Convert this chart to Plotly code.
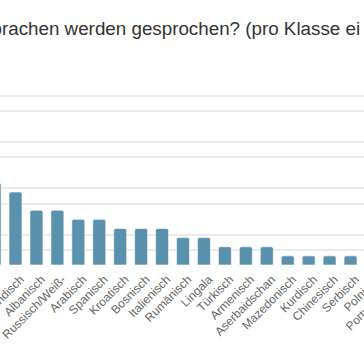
import plotly.graph_objects as go

# Data (first and last two bars lie outside the visible window)
categories = ["Französisch", "Niederländisch", "Albanisch", "Russisch/Weiß-", "Arabisch", "Spanisch",
              "Kroatisch", "Bosnisch", "Italienisch", "Rumänisch", "Lingala", "Türkisch",
              "Armenisch", "Aserbaidschan", "Mazedonisch", "Kurdisch", "Chinesisch", "Serbisch",
              "Polnisch", "Portugiesisch"]
values = [9, 8, 6, 6, 5, 5, 4, 4, 4, 3, 3, 2, 2, 2, 1, 1, 1, 1, 1, 1]
title_text = "Sprachen werden gesprochen? (pro Klasse ei"
grid_vals = [1.64, 3.29, 6.68, 8.44, 11.84, 13.48, 16.88, 18.52]

W = 430  # figure wider than the 364px window; the page crops it like the reference
fig = go.Figure(go.Bar(
    x=categories, y=values,
    marker=dict(color="#5a91ad", line=dict(color="rgba(255,255,255,0.6)", width=1), cornerradius=2),
    hoverinfo="skip",
))

fig.update_layout(
    width=W, height=364,
    margin=dict(l=0, r=0, t=0, b=99, autoexpand=False),
    paper_bgcolor="white", plot_bgcolor="white",
    showlegend=False,
    bargap=0.38,
    font=dict(family="Liberation Sans, Arial, sans-serif"),
    xaxis=dict(range=[0.26, 0.26 + W / 20.94], showgrid=False, showline=False, zeroline=False,
               ticks="", tickangle=-45, tickfont=dict(size=12, color="#666666"), automargin=False,
               ticklabelshift=5, ticklabelstandoff=4,
               categoryorder="array", categoryarray=categories),
    yaxis=dict(range=[0, 29.04], tickvals=grid_vals, showticklabels=False, showgrid=True,
               gridcolor="#ebebeb", gridwidth=1.5, zeroline=False, showline=False, automargin=False),
    annotations=[dict(text=title_text, xref="paper", yref="paper", x=-23 / W, y=1 - 29 / 265,
                      xanchor="left", yanchor="middle", showarrow=False,
                      font=dict(size=18.8, color="#333333", family="Liberation Sans, Arial, sans-serif"))],
)

fig.write_html("out.html", config={"displayModeBar": False},
               post_script="document.body.style.margin='0';document.body.style.overflow='hidden';"
                           "document.documentElement.style.overflow='hidden';")
